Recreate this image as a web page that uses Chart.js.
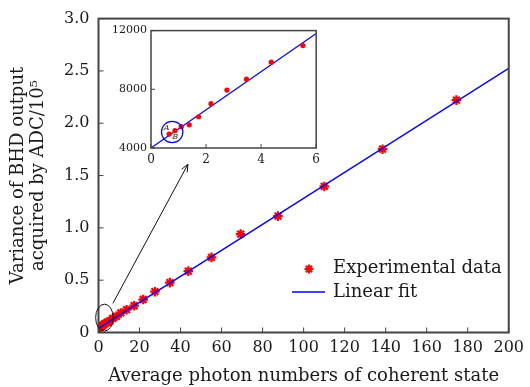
<!DOCTYPE html>
<html>
<head>
<meta charset="utf-8">
<script src="https://cdn.jsdelivr.net/npm/chart.js@4.4.1/dist/chart.umd.min.js"></script>
<style>
  html, body { margin: 0; padding: 0; background: #fff; }
  #wrap { position: relative; width: 530px; height: 387px; }
  #main { position: absolute; left: 0; top: 0; }
  #inset { position: absolute; left: 100px; top: 20px; }
</style>
</head>
<body>
<div id="wrap">
  <canvas id="main" width="530" height="387"></canvas>
  <canvas id="inset" width="225" height="150"></canvas>
</div>
<script>
// Main plot data: photon number vs BHD variance (units of 10^5)
const photonNumbers = [0.70, 0.88, 1.10, 1.39, 1.75, 2.20, 2.77, 3.49, 4.39, 5.53,
  6.96, 8.76, 10.9, 13.7, 17.4, 21.8, 27.5, 34.8, 43.8, 55.1, 69.3, 87.5, 110.1, 138.5, 174.5];
const bhdVariance = [0.0495, 0.0518, 0.0545, 0.0558, 0.0613, 0.0702, 0.0795, 0.0869, 0.0985, 0.1098,
  0.135, 0.155, 0.187, 0.218, 0.256, 0.315, 0.390, 0.477, 0.587, 0.718, 0.940, 1.112, 1.396, 1.752, 2.221];
const fitX = [0, 200];
const fitY = [0.04, 2.524];

// Inset data (raw ADC variance)
const insetPhoton = [0.66, 0.87, 1.10, 1.39, 1.73, 2.18, 2.76, 3.47, 4.37, 5.52];
const insetVariance = [4950, 5180, 5450, 5580, 6130, 7020, 7950, 8690, 9850, 10980];
const insetFitX = [0, 6];
const insetFitY = [4000, 11800];

const xTicks = [0, 20, 40, 60, 80, 100, 120, 140, 160, 180, 200];
const yTicks = [0, 0.5, 1.0, 1.5, 2.0, 2.5, 3.0];
const insetXTicks = [0, 2, 4, 6];
const insetYTicks = [4000, 8000, 12000];

const frameColor = '#444';
const textColor = '#1a1a1a';
const serif = "'DejaVu Serif', serif";

Chart.defaults.font.family = serif;
Chart.defaults.color = textColor;

function pts(xs, ys) {
  return xs.map((x, i) => ({ x: x, y: ys[i] }));
}

// frame + ticks pointing into the plot
function drawFrame(chart, len, width) {
  const { ctx, chartArea: a, scales: { x, y } } = chart;
  ctx.save();
  ctx.strokeStyle = frameColor;
  ctx.lineWidth = 1;
  ctx.beginPath();
  x.ticks.forEach(t => {
    const px = x.getPixelForValue(t.value);
    ctx.moveTo(px, a.bottom);
    ctx.lineTo(px, a.bottom - len);
  });
  y.ticks.forEach(t => {
    const py = y.getPixelForValue(t.value);
    ctx.moveTo(a.left, py);
    ctx.lineTo(a.left + len, py);
  });
  ctx.stroke();
  ctx.lineWidth = width;
  ctx.strokeRect(a.left, a.top, a.right - a.left, a.bottom - a.top);
  ctx.restore();
}

// ellipse around the low photon region and the arrow toward the inset
const zoomEllipse = { x: 2.9, y: 0.142, rx: 8.8, ry: 13.5 };
const arrowFrom = { x: 7.0, y: 0.278 };
const arrowTo = { x: 43.6, y: 1.608 };

const mainDecor = {
  id: 'mainDecor',
  afterDraw(chart) {
    const { ctx, scales: { x, y } } = chart;
    drawFrame(chart, 5, 2);

    ctx.save();
    ctx.strokeStyle = '#111';
    ctx.lineWidth = 1;
    ctx.beginPath();
    ctx.ellipse(x.getPixelForValue(zoomEllipse.x), y.getPixelForValue(zoomEllipse.y),
      zoomEllipse.rx, zoomEllipse.ry, 0, 0, Math.PI * 2);
    ctx.stroke();

    const x0 = x.getPixelForValue(arrowFrom.x), y0 = y.getPixelForValue(arrowFrom.y);
    const x1 = x.getPixelForValue(arrowTo.x), y1 = y.getPixelForValue(arrowTo.y);
    const ang = Math.atan2(y1 - y0, x1 - x0);
    ctx.beginPath();
    ctx.moveTo(x0, y0);
    ctx.lineTo(x1, y1);
    ctx.moveTo(x1 - 8 * Math.cos(ang - 0.4), y1 - 8 * Math.sin(ang - 0.4));
    ctx.lineTo(x1, y1);
    ctx.lineTo(x1 - 8 * Math.cos(ang + 0.4), y1 - 8 * Math.sin(ang + 0.4));
    ctx.stroke();

    // legend
    ctx.strokeStyle = '#ff0000';
    ctx.fillStyle = '#ff0000';
    ctx.lineWidth = 2;
    Chart.helpers.drawPoint(ctx, { pointStyle: 'star', radius: 4.5, borderWidth: 2 }, 309, 269);
    ctx.strokeStyle = '#0000ff';
    ctx.lineWidth = 1.5;
    ctx.beginPath();
    ctx.moveTo(292, 292);
    ctx.lineTo(325, 292);
    ctx.stroke();
    ctx.fillStyle = textColor;
    ctx.font = '18px ' + serif;
    ctx.textBaseline = 'middle';
    ctx.fillText('Experimental data', 333, 268);
    ctx.fillText('Linear fit', 333, 292);
    ctx.restore();
  }
};

new Chart(document.getElementById('main'), {
  type: 'scatter',
  data: {
    datasets: [
      {
        label: 'Experimental data',
        data: pts(photonNumbers, bhdVariance),
        pointStyle: 'star',
        radius: 4.8,
        borderWidth: 2.2,
        borderColor: '#ff0000',
        backgroundColor: '#ff0000',
        order: 1
      },
      {
        label: 'Linear fit',
        type: 'line',
        data: pts(fitX, fitY),
        borderColor: '#0000ff',
        borderWidth: 1.5,
        pointRadius: 0,
        fill: false,
        order: 0
      }
    ]
  },
  options: {
    responsive: false,
    animation: false,
    layout: { padding: { left: 0, right: 16.5, top: 14.7, bottom: 0 } },
    plugins: { legend: { display: false }, tooltip: { enabled: false } },
    scales: {
      x: {
        type: 'linear', min: 0, max: 200,
        afterBuildTicks: s => { s.ticks = xTicks.map(v => ({ value: v })); },
        afterFit: s => { s.height = 54.5; },
        grid: { display: false, drawTicks: false, tickLength: 0 },
        border: { display: false },
        ticks: { font: { size: 16 }, padding: 6, maxRotation: 0 },
        title: {
          display: true,
          text: 'Average photon numbers of coherent state',
          font: { size: 18 },
          padding: { top: 0, bottom: 0 }
        }
      },
      y: {
        min: 0, max: 3,
        afterBuildTicks: s => { s.ticks = yTicks.map(v => ({ value: v })); },
        afterFit: s => { s.width = 98.5; },
        grid: { display: false, drawTicks: false, tickLength: 0 },
        border: { display: false },
        ticks: {
          font: { size: 16 },
          padding: 9,
          callback: v => v === 0 ? '0' : v.toFixed(1)
        },
        title: {
          display: true,
          text: ['Variance of BHD output', 'acquired by ADC/10\u2075'],
          font: { size: 18, lineHeight: '20px' },
          padding: { top: 8, bottom: 0 }
        }
      }
    }
  },
  plugins: [mainDecor]
});

// circle marking points A and B in the inset
const markCircle = { x: 0.77, y: 5090, r: 10.7 };

const insetDecor = {
  id: 'insetDecor',
  beforeDraw(chart) {
    const { ctx, chartArea: a } = chart;
    ctx.save();
    ctx.fillStyle = '#fff';
    ctx.fillRect(a.left, a.top, a.right - a.left, a.bottom - a.top);
    ctx.restore();
  },
  afterDraw(chart) {
    const { ctx, scales: { x, y } } = chart;
    drawFrame(chart, 4, 1.5);
    const cx = x.getPixelForValue(markCircle.x), cy = y.getPixelForValue(markCircle.y);
    ctx.save();
    ctx.strokeStyle = '#0000ff';
    ctx.lineWidth = 1.2;
    ctx.beginPath();
    ctx.arc(cx, cy, markCircle.r, 0, Math.PI * 2);
    ctx.stroke();
    ctx.fillStyle = '#333';
    ctx.font = 'italic 8px ' + serif;
    ctx.textAlign = 'center';
    ctx.textBaseline = 'middle';
    ctx.fillText('A', cx - 5.5, cy - 4.5);
    ctx.fillText('B', cx + 3, cy + 5);
    ctx.restore();
  }
};

new Chart(document.getElementById('inset'), {
  type: 'scatter',
  data: {
    datasets: [
      {
        data: pts(insetPhoton, insetVariance),
        pointStyle: 'circle',
        radius: 2.6,
        borderWidth: 0,
        backgroundColor: '#ff0000',
        order: 0
      },
      {
        type: 'line',
        data: pts(insetFitX, insetFitY),
        borderColor: '#0000ff',
        borderWidth: 1.2,
        pointRadius: 0,
        fill: false,
        order: 1
      }
    ]
  },
  options: {
    responsive: false,
    animation: false,
    layout: { padding: { left: 0, right: 8, top: 8, bottom: 0 } },
    plugins: { legend: { display: false }, tooltip: { enabled: false } },
    scales: {
      x: {
        type: 'linear', min: 0, max: 6,
        afterBuildTicks: s => { s.ticks = insetXTicks.map(v => ({ value: v })); },
        afterFit: s => { s.height = 22; },
        grid: { display: false, drawTicks: false, tickLength: 0 },
        border: { display: false },
        ticks: { font: { size: 12 }, padding: 5, maxRotation: 0 }
      },
      y: {
        min: 4000, max: 12000,
        afterBuildTicks: s => { s.ticks = insetYTicks.map(v => ({ value: v })); },
        afterFit: s => { s.width = 51; },
        grid: { display: false, drawTicks: false, tickLength: 0 },
        border: { display: false },
        ticks: { font: { size: 11 }, padding: 4, callback: v => String(v) }
      }
    }
  },
  plugins: [insetDecor]
});
</script>
</body>
</html>
